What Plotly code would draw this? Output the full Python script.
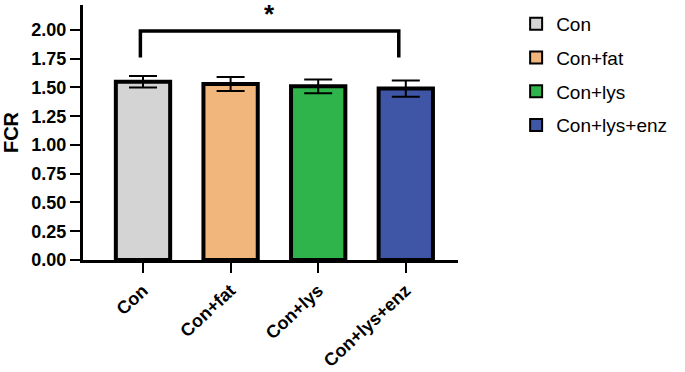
import plotly.graph_objects as go

categories = ["Con", "Con+fat", "Con+lys", "Con+lys+enz"]
fcr_mean = [1.55, 1.53, 1.51, 1.49]
fcr_err = [0.05, 0.06, 0.06, 0.07]
colors = ["#d4d4d4", "#f0b67c", "#2fb44b", "#3f56a6"]
y_ticks = [0.00, 0.25, 0.50, 0.75, 1.00, 1.25, 1.50, 1.75, 2.00]
sig_left = "Con"
sig_right = "Con+lys+enz"
sig_label = "*"
bracket_top = 1.99
bracket_bottom = 1.76
star_y = 2.14

FONT = "Liberation Sans, Arial"

fig = go.Figure()
for c, m, e, col in zip(categories, fcr_mean, fcr_err, colors):
    fig.add_trace(go.Bar(
        x=[c], y=[m], name=c, legendgroup=c,
        marker=dict(color=col, line=dict(color="black", width=4)),
        error_y=dict(type="data", array=[e], color="black", thickness=2, width=14),
        width=0.62,
    ))

i0 = categories.index(sig_left) - 0.03
i1 = categories.index(sig_right) - 0.08
fig.add_shape(type="path", xref="x", yref="y",
              path=f"M {i0},{bracket_bottom} L {i0},{bracket_top} L {i1},{bracket_top} L {i1},{bracket_bottom}",
              line=dict(color="black", width=3.5))
fig.add_annotation(x=(i0 + i1) / 2, y=star_y, xref="x", yref="y", text=f"<b>{sig_label}</b>",
                   showarrow=False, font=dict(size=26, color="black", family=FONT))

fig.update_layout(
    width=685, height=372,
    margin=dict(l=83, r=227, t=5, b=112),
    plot_bgcolor="white", paper_bgcolor="white",
    barmode="overlay",
    font=dict(family=FONT, color="black"),
    showlegend=True,
    legend=dict(x=1.155, y=1.0, xanchor="left", yanchor="top",
                font=dict(size=19, color="black"), tracegroupgap=6,
                itemsizing="constant"),
    xaxis=dict(
        type="category", range=[-0.685, 3.596], automargin=False,
        showline=True, linecolor="black", linewidth=3,
        ticks="outside", ticklen=10, tickwidth=2, tickcolor="black",
        tickangle=-43, tickfont=dict(size=18, family=FONT, weight="bold"),
        showgrid=False, zeroline=False,
    ),
    yaxis=dict(
        range=[0, 2.217], tickvals=y_ticks, ticktext=[f"{v:.2f}" for v in y_ticks],
        automargin=False,
        showline=True, linecolor="black", linewidth=3,
        ticks="outside", ticklen=10, tickwidth=2, tickcolor="black",
        tickfont=dict(size=18, family=FONT, weight="bold"),
        title=dict(text="<b>FCR</b>", font=dict(size=20), standoff=10),
        showgrid=False, zeroline=False,
    ),
)

fig.write_html("out.html", config={"displayModeBar": False},
               post_script="document.body.style.margin='0px';")
